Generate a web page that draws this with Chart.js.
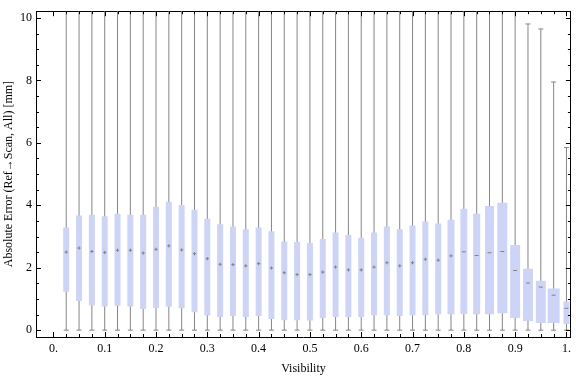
<!DOCTYPE html>
<html><head><meta charset="utf-8">
<script src="https://cdn.jsdelivr.net/npm/chart.js@4/dist/chart.umd.min.js"></script>
<style>html,body{margin:0;padding:0;background:#fff;}#wrap{width:576px;height:377px;position:relative;}</style>
</head><body><div id="wrap"><canvas id="c" width="576" height="377"></canvas></div>
<script>
const visibility = [0.025,0.05,0.075,0.1,0.125,0.15,0.175,0.2,0.225,0.25,0.275,0.3,0.325,0.35,0.375,0.4,0.425,0.45,0.475,0.5,0.525,0.55,0.575,0.6,0.625,0.65,0.675,0.7,0.725,0.75,0.775,0.8,0.825,0.85,0.875,0.9,0.925,0.95,0.975,1.0];
const q1 = [1.23,0.93,0.79,0.76,0.78,0.76,0.68,0.71,0.75,0.70,0.57,0.47,0.42,0.45,0.42,0.45,0.36,0.32,0.32,0.31,0.39,0.42,0.42,0.42,0.48,0.48,0.45,0.48,0.48,0.51,0.51,0.52,0.51,0.51,0.54,0.39,0.29,0.23,0.23,0.20];
const q3 = [3.29,3.67,3.70,3.65,3.73,3.70,3.70,3.95,4.11,4.01,3.86,3.57,3.39,3.32,3.23,3.29,3.17,2.84,2.82,2.79,2.92,3.13,3.05,2.96,3.13,3.32,3.23,3.35,3.48,3.42,3.54,3.89,3.73,3.98,4.08,2.73,1.97,1.58,1.33,0.92];
const median = [2.50,2.63,2.52,2.49,2.56,2.56,2.47,2.59,2.70,2.57,2.45,2.29,2.11,2.10,2.06,2.13,1.99,1.84,1.78,1.78,1.86,2.02,1.93,1.93,2.02,2.16,2.06,2.16,2.27,2.24,2.38,2.51,2.39,2.48,2.52,1.91,1.51,1.38,1.12,0.70];
const whiskerLow = [0,0,0,0,0,0,0,0,0,0,0,0,0,0,0,0,0,0,0,0,0,0,0,0,0,0,0,0,0,0,0,0,0,0,0,0,0,0,0,0];
const whiskerHigh = [12,12,12,12,12,12,12,12,12,12,12,12,12,12,12,12,12,12,12,12,12,12,12,12,12,12,12,12,12,12,12,12,12,12,12,12,9.81,9.65,7.95,5.85];
const xTickLabels = ["0.","0.1","0.2","0.3","0.4","0.5","0.6","0.7","0.8","0.9","1."];
const yTickLabels = ["0","2","4","6","8","10"];

const FONT = 'Liberation Serif';
const BOX = 'rgb(205,212,245)';
const GREY = '#858585';

function boxWidth(v){
  if (v > 0.99) return 6;
  if (v > 0.96) return 12;
  if (v > 0.86) return 10;
  if (v > 0.84) return 9;
  if (v > 0.76) return 7;
  return 6;
}
const groups = {};
visibility.forEach((v,i)=>{
  const w = boxWidth(v);
  (groups[w] = groups[w] || []).push({x:v, y:[q1[i], q3[i]]});
});
const boxDatasets = Object.keys(groups).map(w => ({
  type:'bar', data: groups[w], barThickness: +w, backgroundColor: BOX,
  borderWidth: 0, inflateAmount: 0, grouped: false, order: 3
}));

const datasets = [
  {type:'bar', data: visibility.map((v,i)=>({x:v, y:[whiskerLow[i], whiskerHigh[i]]})),
   barThickness: 1, backgroundColor: GREY, borderWidth: 0, inflateAmount: 0, grouped: false, order: 5},
  ...boxDatasets,
  {type:'scatter', data: visibility.map((v,i)=>({x:v, y:whiskerLow[i]})).concat(
     visibility.map((v,i)=>({x:v, y:whiskerHigh[i]}))),
   pointStyle:'line', pointRadius: 2.5, borderColor: GREY, borderWidth: 1, order: 2},
  {type:'scatter', data: visibility.map((v,i)=>({x:v, y:median[i]})),
   pointStyle: ctx => (ctx.raw && ctx.raw.x > 0.79) ? 'line' : 'cross',
   pointRadius: ctx => (ctx.raw && ctx.raw.x > 0.79) ? 2 : 1.6,
   borderColor: '#808080', borderWidth: 1, order: 0}
];

const frameTicks = {
  id:'frameTicks',
  afterDraw(chart){
    const {ctx, chartArea:a, scales:{x, y}} = chart;
    ctx.save();
    ctx.strokeStyle = '#000'; ctx.lineWidth = 1;
    ctx.beginPath();
    x.ticks.forEach(t=>{
      const p = Math.round(x.getPixelForValue(t.value)) + 0.5;
      const len = t.label ? 5 : 3;
      ctx.moveTo(p, a.bottom); ctx.lineTo(p, a.bottom - len);
      ctx.moveTo(p, a.top); ctx.lineTo(p, a.top + len);
    });
    y.ticks.forEach(t=>{
      const p = Math.round(y.getPixelForValue(t.value)) + 0.5;
      const len = t.label ? 5 : 3;
      ctx.moveTo(a.left, p); ctx.lineTo(a.left + len, p);
      ctx.moveTo(a.right, p); ctx.lineTo(a.right - len, p);
    });
    ctx.stroke();
    ctx.restore();
  }
};

new Chart(document.getElementById('c'), {
  type:'bar',
  data:{datasets},
  options:{
    responsive:false, animation:false, devicePixelRatio:1,
    layout:{padding:0},
    plugins:{legend:{display:false}, tooltip:{enabled:false}},
    scales:{
      x:{type:'linear', position:'bottom', min:-0.0339, max:1.0087, offset:false,
         grid:{display:false, drawTicks:false}, border:{display:true, color:'#000', width:1},
         afterBuildTicks: s => { s.ticks = [0].concat(visibility).map(v=>({value:v})); },
         afterFit: s => { s.height = 40; },
         ticks:{autoSkip:false, maxRotation:0, minRotation:0, padding:5, color:'#000',
           font:{family:FONT, size:12},
           callback: v => { const k = Math.round(v*10); return Math.abs(v*10-k) < 1e-6 ? xTickLabels[k] : ''; }},
         title:{display:true, text:'Visibility', color:'#000', font:{family:FONT, size:12}, padding:{top:0,bottom:1}}},
      x2:{type:'linear', position:'top', min:-0.0339, max:1.0087,
         grid:{display:false, drawTicks:false}, border:{display:true, color:'#000', width:1},
         ticks:{display:false}, afterFit: s => { s.height = 4; }},
      y:{type:'linear', position:'left', min:-0.22, max:10.219,
         grid:{display:false, drawTicks:false}, border:{display:true, color:'#000', width:1},
         afterBuildTicks: s => { const t=[]; for(let k=0;k<=20;k++) t.push({value:k*0.5}); s.ticks = t; },
         afterFit: s => { s.width = 36; },
         ticks:{autoSkip:false, padding:4, color:'#000', font:{family:FONT, size:12},
           callback: v => (Math.abs(v - Math.round(v))<1e-6 && Math.round(v)%2===0) ? yTickLabels[Math.round(v)/2] : ''},
         title:{display:true, text:'Absolute Error (Ref\u2192Scan, All) [mm]', color:'#000', font:{family:FONT, size:12}, padding:{top:2,bottom:0}}},
      y2:{type:'linear', position:'right', min:-0.22, max:10.219,
         grid:{display:false, drawTicks:false}, border:{display:true, color:'#000', width:1},
         ticks:{display:false}, afterFit: s => { s.width = 1; }}
    }
  },
  plugins:[frameTicks]
});
</script></body></html>
